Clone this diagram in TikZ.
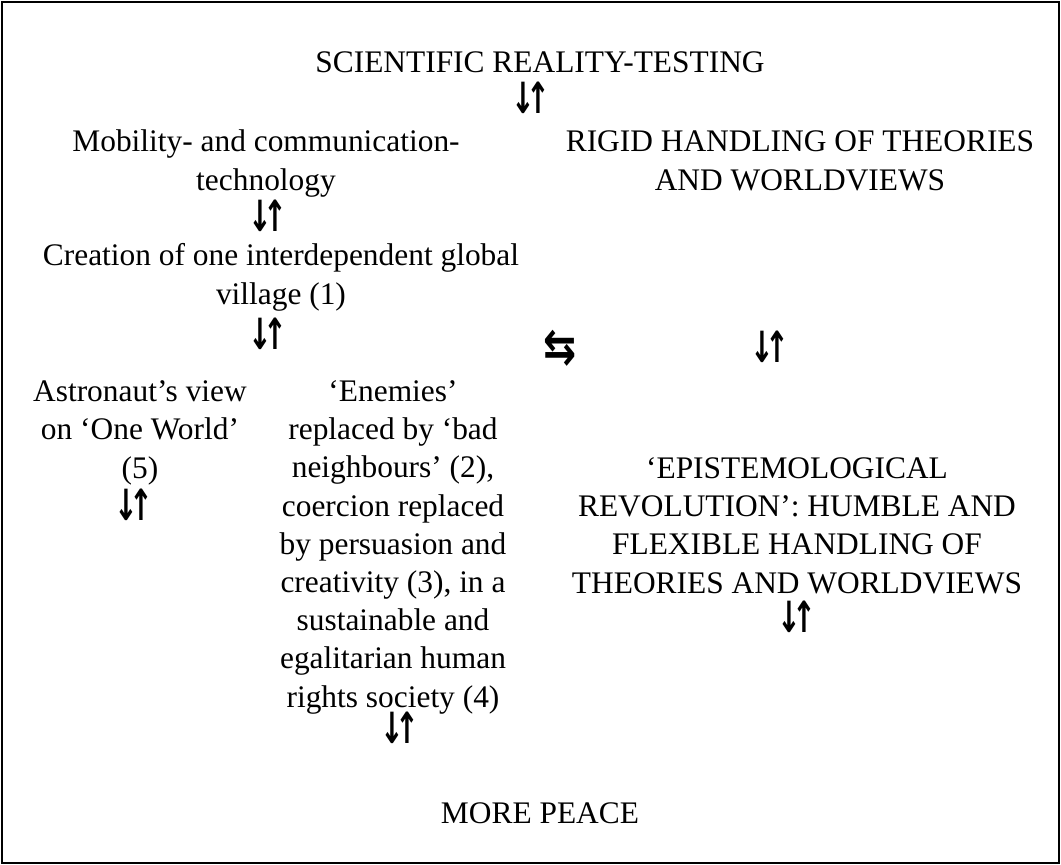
\documentclass[tikz,border=0pt]{standalone}
\usepackage{fontspec}
\setmainfont{Liberation Serif}
\newfontfamily\dejavu{DejaVu Sans}
\newcommand{\updown}{\scalebox{0.66}[1]{↓\kern-0.3em↑}}
\newcommand{\leftright}{\scalebox{1.1}[1.35]{⇆}}
\begin{document}
\begin{tikzpicture}[x=1pt,y=1pt,
  txt/.style={font=\fontsize{31.4}{38.2}\selectfont, align=center, inner sep=0pt, anchor=base},
  arr/.style={font=\dejavu\bfseries\fontsize{43}{43}\selectfont, inner sep=0pt},
  swp/.style={font=\dejavu\bfseries\fontsize{36}{36}\selectfont, inner sep=0pt}]
\useasboundingbox (0,0) rectangle (1061,-865);
\draw[line width=2pt] (2,-2) rectangle (1059,-863);
\node[txt] (top) at (540,-72) {SCIENTIFIC REALITY-TESTING};
\node[arr] (a1) at (531,-98) {\updown};
\node[txt] (mob) at (266,-190) {Mobility- and communication-\\technology};
\node[txt] (rigid) at (800,-190) {RIGID HANDLING OF THEORIES\\AND WORLDVIEWS};
\node[arr] (a2) at (268,-216) {\updown};
\node[txt] (cre) at (281,-304) {Creation of one interdependent global\\village (1)};
\node[arr] (a3) at (268,-334) {\updown};
\node[swp] (sw) at (560,-348) {\leftright};
\node[arr] (a4) at (770,-347) {\updown};
\node[txt] (ast) at (140,-478) {Astronaut’s view\\on ‘One World’\\(5)};
\node[arr] (a5) at (134,-505) {\updown};
\node[txt] (ene) at (393,-707) {‘Enemies’\\replaced by ‘bad\\neighbours’ (2),\\coercion replaced\\by persuasion and\\creativity (3), in a\\sustainable and\\egalitarian human\\rights society (4)};
\node[arr] (a6) at (400,-728) {\updown};
\node[txt] (epi) at (797,-593) {‘EPISTEMOLOGICAL\\REVOLUTION’: HUMBLE AND\\FLEXIBLE HANDLING OF\\THEORIES AND WORLDVIEWS};
\node[arr] (a7) at (797,-617) {\updown};
\node[txt] (peace) at (540,-823) {MORE PEACE};
\end{tikzpicture}
\end{document}
